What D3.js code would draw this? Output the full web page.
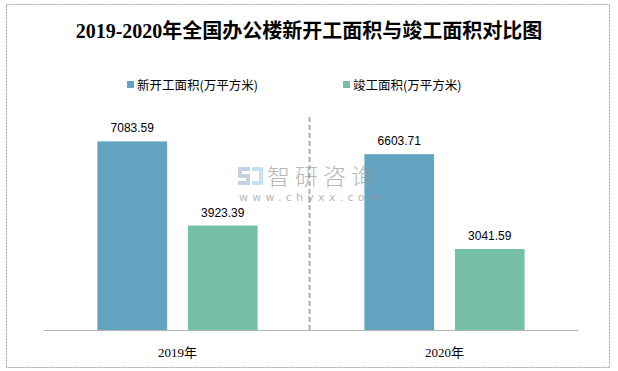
<!DOCTYPE html>
<html>
<head>
  <meta charset="utf-8">
  <title>2019-2020年全国办公楼新开工面积与竣工面积对比图</title>
  <style>
    body { margin: 0; background: #fff; }
  </style>
</head>
<body>
  <svg width="618" height="371"></svg>

  <script src="https://unpkg.com/d3@7/dist/d3.min.js"></script>
  <script type="text/javascript">
    var years = ['2019年', '2020年']
    var seriesNames = ['新开工面积(万平方米)', '竣工面积(万平方米)']
    var newStarts = [7083.59, 6603.71]
    var completed = [3923.39, 3041.59]
    var colors = ['#62a3c2', '#75bfa6']

    var svg = d3.select('svg'),
      serif = '"Liberation Serif", "Noto Sans CJK SC", serif',
      sans = '"Noto Sans CJK SC", "Liberation Sans", sans-serif'

    // outer frame
    svg.append('rect')
      .attr('x', 6.5).attr('y', 4.5).attr('width', 603).attr('height', 363)
      .attr('fill', 'none').attr('stroke', '#a0a0a0').attr('stroke-width', 1)
      .attr('stroke-dasharray', '2,1')

    svg.append('text')
      .attr('x', 309).attr('y', 38)
      .attr('text-anchor', 'middle')
      .attr('font-family', serif).attr('font-size', 20).attr('font-weight', 600)
      .attr('fill', '#000')
      .text('2019-2020年全国办公楼新开工面积与竣工面积对比图')

    // legend
    var legend = svg.selectAll('.legend')
      .data(seriesNames).enter()
      .append('g')
      .attr('class', 'legend')
      .attr('transform', (d, i) => 'translate(' + [127, 343][i] + ',85)')
    legend.append('rect')
      .attr('x', 0).attr('y', -4).attr('width', 7).attr('height', 7)
      .attr('fill', (d, i) => colors[i])
    legend.append('text')
      .attr('x', 10).attr('y', 4.5)
      .attr('font-family', sans).attr('font-size', 12.5).attr('fill', '#000')
      .text(d => d)

    var x = d3.scaleBand().domain(years).range([44, 578])
    var xs = d3.scaleBand().domain([0, 1]).range([0, x.bandwidth()])
      .paddingInner(0.23).paddingOuter(0.59)
    var y = d3.scaleLinear().domain([0, 8000]).range([330, 117])

    var rows = years.map((yr, i) => ({year: yr, values: [newStarts[i], completed[i]]}))

    var groups = svg.selectAll('.group')
      .data(rows).enter()
      .append('g')
      .attr('class', 'group')
      .attr('transform', d => 'translate(' + x(d.year) + ',0)')

    groups.selectAll('rect')
      .data(d => d.values).enter()
      .append('rect')
      .attr('x', (d, i) => xs(i))
      .attr('y', d => y(d))
      .attr('width', xs.bandwidth())
      .attr('height', d => y(0) - y(d))
      .attr('fill', (d, i) => colors[i])

    groups.selectAll('.val')
      .data(d => d.values).enter()
      .append('text')
      .attr('class', 'val')
      .attr('x', (d, i) => xs(i) + xs.bandwidth() / 2)
      .attr('y', d => y(d) - 9)
      .attr('text-anchor', 'middle')
      .attr('font-family', '"Liberation Sans", "DejaVu Sans", sans-serif')
      .attr('font-size', 12).attr('fill', '#000')
      .text(d => d.toFixed(2))

    // axis
    svg.append('line')
      .attr('x1', x.range()[0]).attr('x2', x.range()[1])
      .attr('y1', y(0) + 0.5).attr('y2', y(0) + 0.5)
      .attr('stroke', '#b4b4b4').attr('stroke-width', 1)

    svg.selectAll('.cat')
      .data(years).enter()
      .append('text')
      .attr('class', 'cat')
      .attr('x', d => x(d) + x.bandwidth() / 2)
      .attr('y', 357)
      .attr('text-anchor', 'middle')
      .attr('font-family', serif).attr('font-size', 13).attr('fill', '#000')
      .text(d => d)

    // separator between years
    svg.append('line')
      .attr('x1', x(years[1]) - 1.5).attr('x2', x(years[1]) - 1.5)
      .attr('y1', y(8000)).attr('y2', y(0))
      .attr('stroke', '#b0b0b0').attr('stroke-width', 2)
      .attr('stroke-dasharray', '5,3')

    // watermark
    var wm = svg.append('g').attr('opacity', 0.7)
    wm.append('path')
      .attr('d', 'M238,167h12v4h-8v3h8v11h-12v-4h8v-3h-8z')
      .attr('fill', '#b3bfd6')
    wm.append('path')
      .attr('d', 'M252,167h11v18h-11v-4h7v-10h-7z')
      .attr('fill', '#a9d4ee')
    wm.append('text')
      .attr('x', 267).attr('y', 185)
      .attr('font-family', sans).attr('font-size', 23).attr('font-weight', 300)
      .attr('letter-spacing', 5).attr('fill', '#999')
      .text('智研咨询')
    wm.append('text')
      .attr('x', 239).attr('y', 201)
      .attr('font-family', '"DejaVu Sans", sans-serif').attr('font-size', 11)
      .attr('letter-spacing', 4.3).attr('fill', '#999')
      .text('www.chyxx.com')
  </script>
</body>
</html>
